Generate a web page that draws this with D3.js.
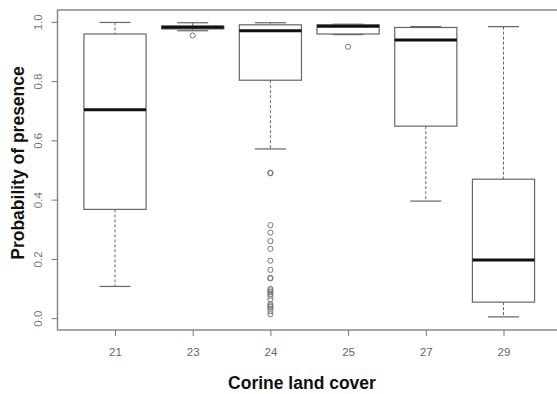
<!DOCTYPE html>
<html>
<head>
<meta charset="utf-8">
<script src="https://cdn.jsdelivr.net/npm/d3@7"></script>
<style>
  html, body { margin: 0; padding: 0; background: #fff; }
  svg { display: block; }
</style>
</head>
<body>
<svg id="chart" width="557" height="394"></svg>
<script>
// land cover classes and their box statistics
const categories = ['21', '23', '24', '25', '27', '29']
const whiskerLow = [0.107, 0.970, 0.571, 0.957, 0.395, 0.004]
const q1 = [0.367, 0.976, 0.803, 0.959, 0.648, 0.054]
const medians = [0.703, 0.982, 0.970, 0.985, 0.939, 0.196]
const q3 = [0.959, 0.986, 0.990, 0.990, 0.981, 0.469]
const whiskerHigh = [0.998, 0.997, 0.997, 0.992, 0.984, 0.984]
const outliers = [
  [],
  [0.954],
  [0.491, 0.489, 0.314, 0.289, 0.260, 0.234, 0.194, 0.163, 0.136, 0.134,
   0.099, 0.094, 0.088, 0.082, 0.075, 0.064, 0.047, 0.043, 0.038, 0.032, 0.023, 0.013],
  [0.916],
  [],
  []
]
const yTicks = [0, 0.2, 0.4, 0.6, 0.8, 1.0]

const svg = d3.select('#chart')
const margin = {top: 10, right: -4, bottom: 64, left: 57.5}
const width = 557, height = 394

const x = d3.scaleLinear()
  .domain([-0.74, categories.length - 0.26])
  .range([margin.left, width - margin.right])
const y = d3.scaleLinear()
  .domain([-0.04, 1.04])
  .range([height - margin.bottom, margin.top])

const boxW = (x(1) - x(0)) * 0.8
const capW = boxW / 2
const grey = '#666'

// frame
svg.append('rect')
  .attr('x', x.range()[0]).attr('y', y.range()[1])
  .attr('width', x.range()[1] - x.range()[0])
  .attr('height', y.range()[0] - y.range()[1])
  .attr('fill', 'none').attr('stroke', '#8a8a8a').attr('stroke-width', 1.5)

// y axis, R style: rotated labels, detached ticks
const yAxis = svg.append('g')
  .attr('transform', `translate(${x.range()[0]},0)`)
  .call(d3.axisLeft(y).tickValues(yTicks).tickFormat(d3.format('.1f')).tickSize(6).tickPadding(6))
yAxis.select('.domain').remove()
yAxis.selectAll('.tick line').attr('stroke', '#777')
yAxis.selectAll('.tick text')
  .attr('fill', '#777')
  .attr('font-family', 'Liberation Sans, Arial, sans-serif')
  .attr('font-size', 11.5)
  .attr('text-anchor', 'middle')
  .attr('transform', 'rotate(-90)')
  .attr('x', 0).attr('y', -19)
  .attr('dy', '0.32em')

// x axis
const xAxis = svg.append('g')
  .attr('transform', `translate(0,${y.range()[0]})`)
  .call(d3.axisBottom(x).tickValues(d3.range(categories.length))
    .tickFormat(i => categories[i]).tickSize(6).tickPadding(12))
xAxis.select('.domain').remove()
xAxis.selectAll('.tick line').attr('stroke', '#777')
xAxis.selectAll('.tick text')
  .attr('fill', '#666')
  .attr('font-family', 'Liberation Sans, Arial, sans-serif')
  .attr('font-size', 11.5)

// boxes
const g = svg.append('g')
categories.forEach((c, i) => {
  const cx = x(i)
  // whiskers
  g.append('line')
    .attr('x1', cx).attr('x2', cx)
    .attr('y1', y(whiskerHigh[i])).attr('y2', y(q3[i]))
    .attr('stroke', grey).attr('stroke-dasharray', '3,2')
  g.append('line')
    .attr('x1', cx).attr('x2', cx)
    .attr('y1', y(q1[i])).attr('y2', y(whiskerLow[i]))
    .attr('stroke', grey).attr('stroke-dasharray', '3,2')
  // caps
  ;[whiskerHigh[i], whiskerLow[i]].forEach(v => {
    g.append('line')
      .attr('x1', cx - capW / 2).attr('x2', cx + capW / 2)
      .attr('y1', y(v)).attr('y2', y(v))
      .attr('stroke', grey).attr('stroke-width', 1.2)
  })
  // box
  g.append('rect')
    .attr('x', cx - boxW / 2).attr('width', boxW)
    .attr('y', y(q3[i])).attr('height', y(q1[i]) - y(q3[i]))
    .attr('fill', '#fff').attr('stroke', grey).attr('stroke-width', 1.2)
  // median
  g.append('line')
    .attr('x1', cx - boxW / 2).attr('x2', cx + boxW / 2)
    .attr('y1', y(medians[i])).attr('y2', y(medians[i]))
    .attr('stroke', '#111').attr('stroke-width', 3)
  // outliers
  g.selectAll(null).data(outliers[i]).enter().append('circle')
    .attr('cx', cx).attr('cy', d => y(d)).attr('r', 2.6)
    .attr('fill', 'none').attr('stroke', '#777').attr('stroke-width', 1)
})

// axis titles
svg.append('text')
  .attr('x', 302).attr('y', 389)
  .attr('text-anchor', 'middle')
  .attr('font-family', 'Liberation Sans, Arial, sans-serif')
  .attr('font-weight', 'bold').attr('font-size', 17.5)
  .attr('fill', '#111')
  .text('Corine land cover')

svg.append('text')
  .attr('transform', 'translate(24,163) rotate(-90)')
  .attr('text-anchor', 'middle')
  .attr('font-family', 'Liberation Sans, Arial, sans-serif')
  .attr('font-weight', 'bold').attr('font-size', 17.5)
  .attr('fill', '#111')
  .text('Probability of presence')
</script>
</body>
</html>
